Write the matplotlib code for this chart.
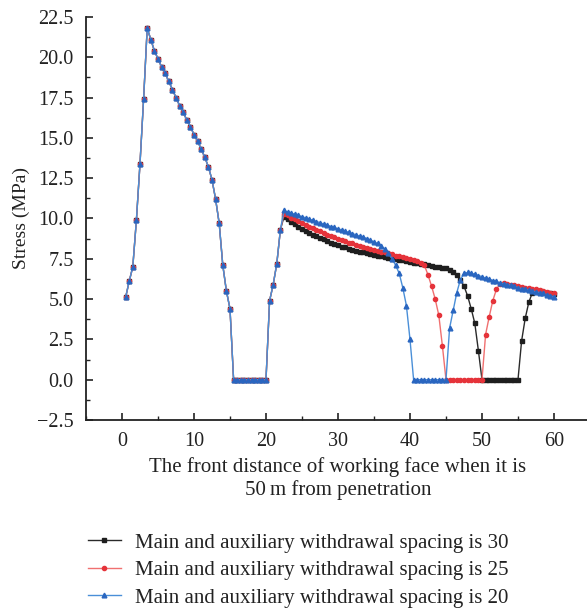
import numpy as np
import matplotlib
matplotlib.use("Agg")
import matplotlib.pyplot as plt
from matplotlib.ticker import MultipleLocator, FuncFormatter

plt.rcParams["font.family"] = ["Liberation Serif", "DejaVu Serif"]

# distance from working face (m), 0.5 m step
distance = np.arange(0.5, 60.01, 0.5)

# common part of the three curves, 0.5 .. 22.0 m
head = [5.1, 6.1, 7.0, 9.9, 13.4, 17.4, 21.8, 21.1, 20.4, 19.9,
        19.4, 19.0, 18.5, 18.0, 17.5, 17.0, 16.6, 16.1, 15.7, 15.2,
        14.8, 14.3, 13.8, 13.2, 12.4, 11.2, 9.7, 7.1, 5.5, 4.4,
        0, 0, 0, 0, 0, 0, 0, 0, 0, 0,
        4.9, 5.9, 7.2, 9.3]

# 22.5 .. 60.0 m
tail_30 = [10.1, 9.95, 9.8, 9.65, 9.5, 9.35, 9.25, 9.1, 9.0, 8.9,
           8.8, 8.7, 8.6, 8.5, 8.4, 8.35, 8.25, 8.2, 8.1, 8.05,
           8.0, 7.95, 7.9, 7.85, 7.8, 7.75, 7.7, 7.65, 7.6, 7.55,
           7.5, 7.5, 7.45, 7.4, 7.35, 7.3, 7.25, 7.25, 7.2, 7.15,
           7.1, 7.05, 7.0, 7.0, 6.95, 6.9, 6.8, 6.7, 6.5, 6.2,
           5.8, 5.2, 4.4, 3.5, 1.8,
           0, 0, 0, 0, 0, 0, 0, 0, 0, 0, 0,
           2.4, 3.8, 4.8, 5.4, 5.5, 5.5, 5.45, 5.4, 5.35, 5.3]

tail_25 = [10.3, 10.2, 10.05, 9.95, 9.85, 9.7, 9.6, 9.5, 9.4, 9.3,
           9.2, 9.1, 9.0, 8.9, 8.85, 8.75, 8.65, 8.6, 8.5, 8.45,
           8.35, 8.3, 8.2, 8.15, 8.1, 8.05, 8.0, 7.95, 7.9, 7.85,
           7.8, 7.7, 7.65, 7.6, 7.55, 7.5, 7.45, 7.35, 7.25, 7.1,
           6.5, 5.8, 5.0, 4.0, 2.1,
           0, 0, 0, 0, 0, 0, 0, 0, 0, 0, 0,
           2.8, 3.9, 4.9, 5.6, 5.95, 6.0, 5.95, 5.9, 5.85, 5.8,
           5.75, 5.7, 5.7, 5.65, 5.6, 5.55, 5.5, 5.45, 5.4, 5.35]

tail_20 = [10.5, 10.4, 10.35, 10.25, 10.2, 10.1, 10.05, 9.95, 9.9, 9.8,
           9.75, 9.65, 9.6, 9.5, 9.45, 9.35, 9.3, 9.2, 9.15, 9.05,
           9.0, 8.9, 8.85, 8.75, 8.65, 8.55, 8.45, 8.3, 8.1, 7.85,
           7.5, 7.1, 6.6, 5.7, 4.6, 2.5,
           0, 0, 0, 0, 0, 0, 0, 0, 0, 0,
           3.2, 4.3, 5.4, 6.2, 6.6, 6.65, 6.6, 6.55, 6.45, 6.4,
           6.3, 6.25, 6.15, 6.1, 6.0, 5.95, 5.9, 5.85, 5.8, 5.7,
           5.65, 5.6, 5.55, 5.5, 5.45, 5.4, 5.35, 5.25, 5.2, 5.15]

spacing_30 = head + tail_30
spacing_25 = head + tail_25
spacing_20 = head + tail_20

labels = ["Main and auxiliary withdrawal spacing is 30",
          "Main and auxiliary withdrawal spacing is 25",
          "Main and auxiliary withdrawal spacing is 20"]

fig = plt.figure(figsize=(5.87, 6.10), dpi=100)
ax = fig.add_axes([0.1465, 0.3115, 0.8586, 0.6607])

ax.plot(distance, spacing_30, color="#2a2a2a", marker="s", ms=3.0,
        mfc="#1e1e1e", mec="#1e1e1e", lw=1.0, label=labels[0])
ax.plot(distance, spacing_25, color="#f07070", marker="o", ms=3.0,
        mfc="#e5333a", mec="#e5333a", lw=1.0, label=labels[1])
ax.plot(distance, spacing_20, color="#4a8fd8", marker="^", ms=3.4,
        mfc="#2a66c0", mec="#2a66c0", lw=1.0, label=labels[2])

ax.set_xlim(-5, 65)
ax.set_ylim(-2.5, 22.5)
ax.xaxis.set_major_locator(MultipleLocator(10))
ax.xaxis.set_minor_locator(MultipleLocator(5))
ax.yaxis.set_major_locator(MultipleLocator(2.5))
ax.yaxis.set_minor_locator(MultipleLocator(1.25))
ax.yaxis.set_major_formatter(FuncFormatter(lambda v, p: f"{v:.1f}".replace("-", "\u2212")))

for s in ["top", "right"]:
    ax.spines[s].set_visible(False)
for s in ["left", "bottom"]:
    ax.spines[s].set_linewidth(1.3)
    ax.spines[s].set_color("#222222")

ax.tick_params(which="major", direction="in", length=5, width=1.2, labelsize=14.5,
               colors="#222222", pad=9)
ax.tick_params(which="minor", direction="in", length=3, width=1.0, colors="#222222")

ax.set_ylabel("Stress (MPa)", fontsize=14, color="#222222", labelpad=5)
ax.set_xlabel("The front distance of working face when it is\n50\u2009m from penetration",
              fontsize=15, color="#222222", labelpad=4, linespacing=1.2)

fig.legend(loc="upper left", bbox_to_anchor=(0.135, 0.14), frameon=False,
           fontsize=15, handlelength=1.6, handletextpad=0.7, labelspacing=0.38,
           borderaxespad=0, labelcolor="#222222")

fig.savefig("out.png", dpi=100)
